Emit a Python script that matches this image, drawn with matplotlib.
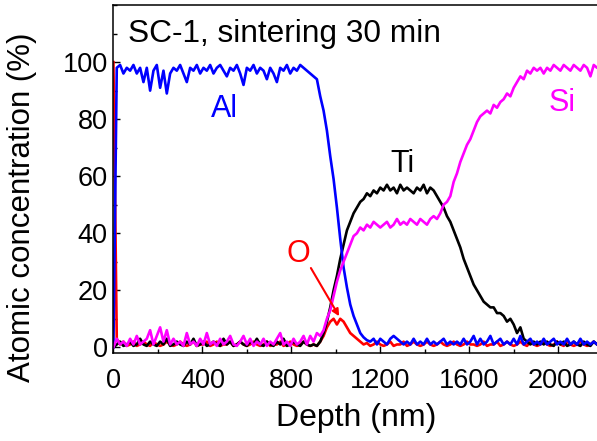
import numpy as np
import matplotlib
matplotlib.use("Agg")
import matplotlib.pyplot as plt
from matplotlib.ticker import MultipleLocator

plt.rcParams['font.family'] = ['Liberation Sans', 'DejaVu Sans']

# depth grid (nm), 15 nm step, rows of 10 points below
depth = np.arange(0, 2250, 15)

al = [
    0, 98, 99, 96, 98, 97, 99, 96, 98, 93,
    98, 90, 97, 99, 91, 97, 89, 96, 98, 97,
    99, 96, 93, 98, 97, 99, 96, 98, 97, 99,
    96, 98, 99, 97, 95, 98, 97, 99, 96, 92,
    98, 97, 99, 96, 98, 97, 94, 98, 96, 93,
    98, 97, 99, 96, 98, 97, 99, 98, 97, 96,
    95, 94, 88, 83, 76, 67, 59, 49, 38, 28,
    21, 15, 11, 8, 5, 3.5, 2.5, 2, 3, 1,
    3, 2, 1, 3, 4, 3, 2, 1, 2, 1,
    3, 1, 2, 1, 3, 1, 2, 1, 2, 3,
    1, 2, 1, 2, 1, 3, 1, 2, 4, 1,
    3, 1, 2, 4, 1, 2, 3, 1, 2, 1,
    3, 1, 4, 1, 2, 3, 1, 2, 1, 3,
    1, 2, 3, 1, 2, 1, 3, 1, 2, 1,
    3, 1, 2, 1, 2, 1, 2, 1, 2, 1,
]

ti = [
    0, 1, 2, 0.5, 1, 2, 0.5, 1, 3, 1,
    0.5, 2, 1, 0.5, 2, 1, 3, 0.5, 1, 2,
    1, 0.5, 2, 1, 3, 0.5, 1, 2, 0.5, 1,
    2, 1, 0.5, 3, 1, 2, 0.5, 1, 2, 1,
    0.5, 2, 1, 3, 1, 0.5, 2, 1, 0.5, 2,
    1, 3, 0.5, 1, 2, 1, 0.5, 2, 1, 0.5,
    1, 0.5, 2, 5, 9, 14, 20, 25, 31, 36,
    41, 44, 47, 49, 51, 52, 54, 53, 55, 54,
    56, 55, 57, 55, 56, 54, 57, 55, 56, 55,
    54, 56, 55, 57, 54, 56, 55, 53, 51, 49,
    46, 44, 41, 38, 35, 31, 28, 25, 22, 20,
    18, 16, 15, 14, 14, 12, 12, 11, 9, 10,
    8, 5, 7, 3, 2, 1, 2, 1, 2, 1,
    2, 1, 0.5, 2, 1, 2, 0.5, 1, 2, 1,
    0.5, 2, 1, 0.5, 2, 1, 0.5, 1, 2, 1,
]

si = [
    0, 3, 1, 2, 0.5, 3, 1, 4, 1, 2,
    3, 6, 1, 4, 7, 2, 6, 1, 3, 1,
    2, 0.5, 5, 1, 2, 0.5, 3, 1, 5, 1,
    2, 0.5, 3, 1, 2, 4, 1, 0.5, 2, 4,
    1, 3, 0.5, 2, 1, 3, 0.5, 2, 1, 3,
    5, 1, 2, 0.5, 3, 1, 2, 4, 1, 4,
    2, 5, 4, 6, 10, 13, 18, 23, 27, 30,
    33, 36, 39, 40, 42, 41, 43, 42, 44, 43,
    42, 43, 44, 42, 43, 45, 43, 44, 43, 45,
    44, 43, 45, 44, 43, 45, 46, 45, 47, 50,
    51, 53, 58, 61, 65, 68, 71, 73, 76, 79,
    81, 82, 83, 82, 85, 84, 86, 87, 89, 88,
    91, 93, 95, 94, 97, 96, 98, 97, 98, 96,
    98, 97, 99, 98, 97, 99, 98, 97, 99, 98,
    97, 99, 98, 95, 99, 98, 99, 98, 99, 98,
]

o = [
    100, 3, 1, 2, 0.5, 1, 2, 0.5, 1, 2,
    1, 0.5, 2, 1, 0.5, 1, 2, 1, 0.5, 1,
    2, 1, 0.5, 1, 2, 0.5, 1, 1, 2, 0.5,
    1, 2, 0.5, 1, 1, 2, 0.5, 1, 2, 1,
    0.5, 1, 2, 1, 0.5, 1, 2, 0.5, 1, 1,
    2, 0.5, 1, 2, 1, 0.5, 1, 2, 1, 0.5,
    1, 0.5, 2, 4, 7, 9, 10, 8, 10, 9,
    7, 5, 4, 3, 2, 1, 1.5, 0.5, 1, 2,
    1, 0.5, 1, 2, 0.5, 1, 1, 2, 0.5, 1,
    2, 1, 0.5, 1, 2, 1, 0.5, 1, 2, 1,
    0.5, 1, 2, 1, 0.5, 1, 2, 1, 1, 0.5,
    1, 2, 0.5, 1, 1, 2, 0.5, 1, 2, 1,
    0.5, 1, 2, 1, 0.5, 2, 1, 0.5, 1, 2,
    1, 0.5, 1, 2, 1, 0.5, 2, 1, 0.5, 1,
    2, 1, 0.5, 1, 2, 1, 0.5, 1, 2, 1,
]

fig = plt.figure(figsize=(5.97, 4.41), dpi=100)
ax = fig.add_axes([0.190, 0.1995, 0.812, 0.789])

lw = 1.9
ax.plot(depth, o, color='#ff0000', lw=lw)
ax.plot(depth, ti, color='black', lw=lw)
ax.plot(depth, al, color='#0000ff', lw=lw)
ax.plot(depth, si, color='#ff00ff', lw=lw)

ax.set_xlim(0, 2180)
ax.set_ylim(-2, 120)
ax.xaxis.set_major_locator(MultipleLocator(400))
ax.xaxis.set_minor_locator(MultipleLocator(200))
ax.yaxis.set_minor_locator(MultipleLocator(10))
ax.set_yticks([0, 20, 40, 60, 80, 100])
ax.tick_params(which='both', direction='in', top=False, right=False, labelsize=19.5)
ax.tick_params(which='major', length=5, width=1)
ax.tick_params(which='minor', length=3, width=1)
ax.tick_params(axis='x', which='major', pad=11)
ax.tick_params(axis='y', which='major', pad=4)
ax.spines['right'].set_visible(False)
for s in ['left', 'bottom', 'top']:
    ax.spines[s].set_linewidth(1.1)

ax.set_xlabel('Depth (nm)', fontsize=23, labelpad=6)
ax.set_ylabel('Atomic concentration (%)', fontsize=22.5)
ax.yaxis.set_label_coords(-0.157, 0.42)

ax.text(65, 107, 'SC-1, sintering 30 min', fontsize=22.8, ha='left', va='baseline')
ax.text(497, 80.6, 'Al', color='#0000ff', fontsize=22, ha='center', va='baseline')
ax.text(2018, 82.7, 'Si', color='#ff00ff', fontsize=22, ha='center', va='baseline')
ax.text(1300, 61.3, 'Ti', color='black', fontsize=22, ha='center', va='baseline')
ax.text(832, 30, 'O', color='#ff0000', fontsize=22, ha='center', va='baseline')
ax.annotate('', xy=(1015, 10.9), xytext=(888, 27.8),
            arrowprops=dict(arrowstyle='-|>', color='#ff0000', lw=1.5,
                            mutation_scale=10, shrinkA=0, shrinkB=0))

fig.savefig('out.png', dpi=100)
